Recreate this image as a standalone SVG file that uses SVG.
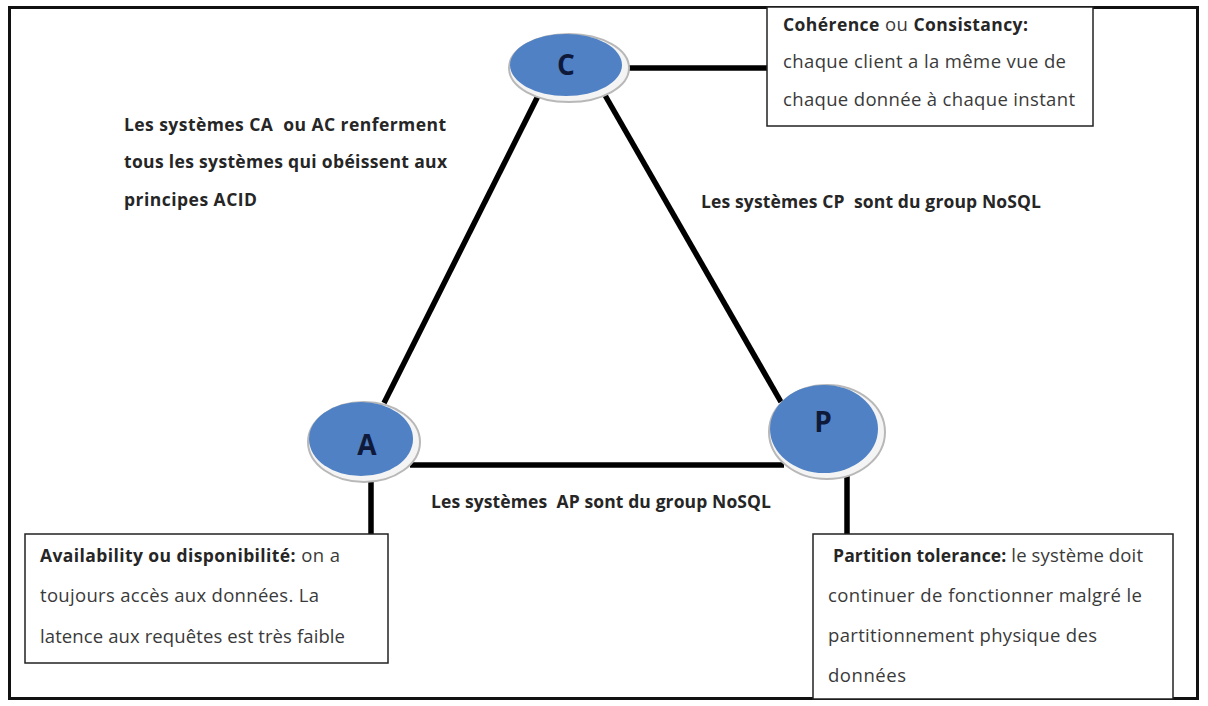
<svg xmlns="http://www.w3.org/2000/svg" width="1208" height="706" viewBox="0 0 1208 706">
  <defs>
    <style>
      .frame { fill: #ffffff; stroke: #111111; stroke-width: 3; }
      .box { fill: #ffffff; stroke: #222222; stroke-width: 1.5; }
      .edge { stroke: #000000; stroke-width: 5.5; stroke-linecap: butt; fill: none; }
      .rim { fill: #f4f4f4; stroke: #b8b8b8; stroke-width: 2; }
      .disc { fill: #4f81c4; }
      .letter { font-family: "Open Sans", "Liberation Sans", sans-serif; font-weight: 700; font-size: 28px; fill: #0f1a3a; text-anchor: middle; }
      .t { font-family: "Open Sans", Lato, "Liberation Sans", sans-serif; font-size: 18.5px; fill: #3a3a3a; }
      .b { font-weight: 700; font-size: 17.5px; fill: #262626; }
    </style>
  </defs>

  <rect width="1208" height="706" fill="#ffffff"/>
  <!-- outer frame -->
  <rect class="frame" x="9.5" y="7.5" width="1188" height="691"/>

  <!-- connectors -->
  <g id="connectors">
    <line class="edge" x1="543" y1="86" x2="384" y2="403"/>
    <line class="edge" x1="602" y1="90" x2="781" y2="402"/>
    <line class="edge" x1="410" y1="465" x2="784" y2="465"/>
    <line class="edge" x1="617" y1="68" x2="768" y2="68"/>
    <line class="edge" x1="371" y1="474" x2="371" y2="535"/>
    <line class="edge" x1="847" y1="466" x2="847" y2="535"/>
  </g>

  <!-- vertex C -->
  <g id="node-c">
    <ellipse class="rim" cx="569" cy="68" rx="60" ry="34"/>
    <ellipse class="disc" cx="566" cy="65" rx="56" ry="31"/>
    <text class="letter" x="566" y="75">C</text>
  </g>

  <!-- vertex A -->
  <g id="node-a">
    <ellipse class="rim" cx="364" cy="442" rx="56" ry="40"/>
    <ellipse class="disc" cx="361" cy="439" rx="52" ry="37"/>
    <text class="letter" x="367" y="455">A</text>
  </g>

  <!-- vertex P -->
  <g id="node-p">
    <ellipse class="rim" cx="827" cy="432" rx="58" ry="47"/>
    <ellipse class="disc" cx="824" cy="429" rx="54" ry="44"/>
    <text class="letter" x="823" y="432">P</text>
  </g>

  <!-- consistency note -->
  <g id="note-c">
    <rect class="box" x="767" y="7" width="326" height="119"/>
    <text class="t" x="783" y="31" textLength="245"><tspan class="b">Cohérence</tspan> ou <tspan class="b">Consistancy:</tspan></text>
    <text class="t" x="783" y="68" textLength="283">chaque client a la même vue de</text>
    <text class="t" x="783" y="106" textLength="292">chaque donnée à chaque instant</text>
  </g>

  <!-- availability note -->
  <g id="note-a">
    <rect class="box" x="25" y="534" width="363" height="129"/>
    <text class="t" x="40" y="562" textLength="300"><tspan class="b">Availability ou disponibilité:</tspan> on a</text>
    <text class="t" x="40" y="602" textLength="279">toujours accès aux données. La</text>
    <text class="t" x="40" y="643" textLength="305">latence aux requêtes est très faible</text>
  </g>

  <!-- partition note -->
  <g id="note-p">
    <rect class="box" x="813" y="534" width="360" height="165"/>
    <text class="t" x="833" y="562" textLength="310"><tspan class="b">Partition tolerance:</tspan> le système doit</text>
    <text class="t" x="828" y="602" textLength="314">continuer de fonctionner malgré le</text>
    <text class="t" x="828" y="642" textLength="269">partitionnement physique des</text>
    <text class="t" x="828" y="682" textLength="78">données</text>
  </g>

  <!-- edge labels -->
  <g id="label-ca">
    <text class="t b" x="124" y="131" textLength="322" xml:space="preserve">Les systèmes CA  ou AC renferment</text>
    <text class="t b" x="124" y="168" textLength="323">tous les systèmes qui obéissent aux</text>
    <text class="t b" x="124" y="206" textLength="133">principes ACID</text>
  </g>
  <g id="label-cp">
    <text class="t b" x="701" y="208" textLength="340" xml:space="preserve">Les systèmes CP  sont du group NoSQL</text>
  </g>
  <g id="label-ap">
    <text class="t b" x="431" y="508" textLength="340" xml:space="preserve">Les systèmes  AP sont du group NoSQL</text>
  </g>
</svg>
